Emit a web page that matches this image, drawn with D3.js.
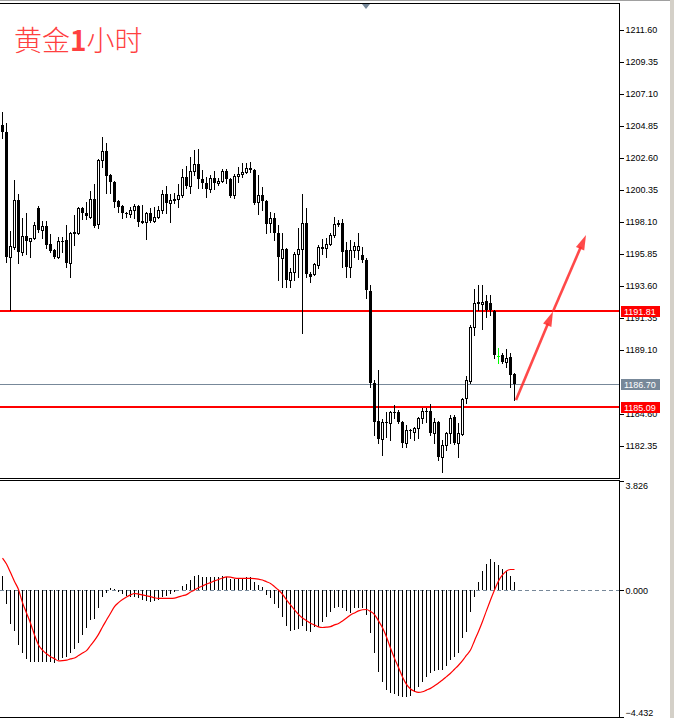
<!DOCTYPE html>
<html>
<head>
<meta charset="utf-8">
<script src="https://cdn.jsdelivr.net/npm/d3@7"></script>
<style>
  body { margin: 0; background: #fff; }
  svg { display: block; }
  text { font-family: "Liberation Sans", Arial, sans-serif; }
</style>
</head>
<body>
<svg width="674" height="718"></svg>
<script>
// hourly gold candles
const opens = [
1204.92,1204.43,1195.64,1196.34,1199.65,1195.99,1197.12,1196.76,1196.98,1199.09,
1197.54,1197.82,1196.55,1196.13,1195.64,1196.76,1196.83,1195.22,1197.40,1197.33,
1199.09,1198.73,1198.45,1199.72,1197.96,1202.46,1203.09,1201.40,1200.91,1199.58,
1199.23,1198.73,1198.66,1198.95,1199.23,1198.10,1198.10,1198.73,1198.17,1198.45,
1198.95,1200.07,1199.44,1199.65,1199.72,1200.00,1201.26,1200.63,1201.69,1202.18,
1201.12,1200.84,1200.42,1201.19,1200.84,1200.98,1201.69,1201.12,1200.00,1201.33,
1201.47,1201.62,1201.90,1201.76,1199.51,1200.00,1199.58,1198.03,1198.38,1197.33,
1195.57,1196.20,1194.02,1194.59,1195.85,1196.20,1198.03,1194.44,1194.44,1195.08,
1196.34,1196.27,1196.55,1197.19,1197.96,1198.03,1196.13,1194.94,1196.13,1196.13,
1195.78,1195.43,1193.25,1186.78,1184.11,1182.84,1184.04,1183.97,1184.74,1184.74,
1184.04,1182.56,1183.47,1183.33,1183.62,1184.32,1184.81,1184.81,1183.26,1184.04,
1181.58,1182.42,1183.26,1184.39,1182.56,1183.19,1185.72,1186.92,1190.72,1192.48,
1192.34,1192.55,1192.41,1191.84,1188.68,1188.75,1188.26,1188.61,1187.41];
const highs = [
1205.83,1205.06,1197.47,1201.05,1200.07,1198.38,1198.73,1196.98,1198.10,1199.20,
1198.17,1198.17,1197.26,1196.20,1197.05,1197.05,1197.89,1197.40,1198.59,1199.16,
1199.16,1199.51,1200.28,1200.77,1202.53,1204.08,1203.66,1201.47,1200.98,1199.65,
1199.30,1198.80,1199.16,1199.37,1199.30,1199.30,1198.80,1199.09,1199.16,1199.23,
1200.35,1200.63,1200.07,1200.14,1200.77,1201.83,1202.04,1202.67,1203.16,1203.23,
1201.76,1201.26,1201.40,1201.69,1201.19,1201.83,1201.83,1201.19,1201.47,1201.97,
1202.25,1202.25,1202.32,1201.83,1201.40,1200.56,1199.65,1198.80,1198.73,1197.89,
1197.33,1196.27,1194.87,1195.99,1197.68,1200.07,1199.09,1194.59,1195.22,1196.48,
1196.90,1196.98,1197.33,1198.45,1198.24,1198.31,1196.69,1196.83,1196.69,1197.33,
1196.34,1195.57,1193.67,1187.00,1187.69,1184.25,1184.74,1184.81,1185.23,1184.88,
1184.11,1183.83,1183.54,1183.69,1184.39,1185.02,1185.02,1185.30,1184.32,1184.11,
1182.77,1183.33,1184.53,1184.53,1183.97,1185.72,1187.27,1190.86,1193.39,1193.67,
1193.67,1192.97,1192.97,1191.91,1189.24,1188.89,1189.17,1188.89,1187.48];
const lows = [
1204.01,1195.29,1191.91,1196.20,1195.22,1195.78,1195.85,1195.64,1196.90,1197.40,
1196.98,1196.27,1195.99,1195.57,1195.57,1195.99,1194.94,1194.23,1196.48,1197.26,
1198.31,1198.31,1198.38,1197.75,1197.68,1201.97,1200.14,1200.14,1199.16,1198.80,
1198.38,1198.45,1198.45,1198.38,1197.82,1198.03,1196.90,1198.10,1198.10,1198.38,
1198.73,1198.73,1198.10,1199.44,1199.16,1199.86,1200.49,1200.14,1201.40,1200.49,
1200.49,1199.86,1200.21,1200.42,1200.70,1200.91,1200.84,1199.86,1199.79,1200.91,
1201.26,1201.55,1201.62,1199.37,1198.66,1198.95,1197.33,1197.40,1196.83,1194.02,
1193.53,1193.53,1193.53,1194.02,1194.23,1190.30,1194.23,1193.88,1194.37,1194.87,
1195.85,1195.64,1196.48,1197.05,1197.82,1194.94,1194.23,1194.23,1195.64,1195.50,
1195.29,1192.76,1186.50,1183.12,1182.56,1181.72,1182.98,1182.77,1184.32,1183.97,
1182.28,1182.28,1182.91,1182.77,1182.91,1183.97,1184.04,1183.12,1182.56,1181.37,
1180.52,1182.07,1182.56,1182.49,1181.58,1183.12,1185.37,1186.78,1190.16,1191.91,
1190.58,1191.42,1191.56,1188.54,1188.18,1188.18,1187.91,1186.50,1185.58];
const closes = [
1204.43,1195.64,1196.41,1199.65,1195.99,1197.12,1196.76,1196.98,1197.89,1197.54,
1197.82,1196.48,1196.06,1195.64,1196.76,1196.69,1195.22,1197.33,1197.26,1199.09,
1198.73,1198.52,1199.72,1197.82,1202.46,1203.09,1201.33,1200.91,1199.51,1199.16,
1198.73,1198.66,1198.95,1199.23,1198.10,1198.17,1198.73,1198.17,1198.45,1198.95,
1200.07,1199.44,1199.65,1199.72,1200.00,1201.26,1200.63,1201.69,1202.18,1201.12,
1200.84,1200.42,1201.19,1200.84,1200.98,1201.69,1201.12,1199.93,1201.33,1201.47,
1201.62,1201.90,1201.76,1199.44,1200.00,1199.58,1197.96,1198.38,1197.33,1195.64,
1196.20,1194.02,1194.59,1195.85,1196.20,1198.03,1194.44,1194.23,1195.15,1196.34,
1196.20,1196.55,1197.19,1197.96,1198.03,1195.99,1194.94,1196.13,1196.41,1196.41,
1195.43,1193.32,1186.78,1184.04,1182.84,1184.04,1183.97,1184.74,1184.67,1184.04,
1182.56,1183.47,1183.40,1183.62,1184.32,1184.81,1184.74,1183.26,1184.04,1181.58,
1182.42,1183.26,1184.32,1182.56,1183.26,1185.65,1186.99,1190.72,1192.41,1192.34,
1192.48,1191.91,1191.91,1188.75,1188.68,1188.26,1188.54,1187.34,1186.70];

// MACD histogram and signal line
const macdHist = [
0.50,-0.48,-1.18,-1.41,-1.91,-2.19,-2.40,-2.50,-2.50,-2.50,
-2.50,-2.50,-2.50,-2.53,-2.44,-2.37,-2.32,-2.19,-2.05,-1.84,
-1.56,-1.32,-1.04,-1.00,-0.61,-0.23,-0.08,0.09,0.05,-0.05,
-0.13,-0.20,-0.22,-0.22,-0.27,-0.34,-0.36,-0.40,-0.36,-0.34,
-0.23,-0.20,-0.13,-0.05,0.01,0.15,0.21,0.36,0.50,0.54,
0.48,0.45,0.45,0.45,0.48,0.50,0.48,0.40,0.40,0.40,
0.40,0.45,0.45,0.30,0.19,0.10,-0.16,-0.28,-0.48,-0.63,
-0.92,-1.24,-1.41,-1.39,-1.36,-1.24,-1.41,-1.45,-1.27,-1.27,
-1.10,-0.92,-0.77,-0.63,-0.57,-0.63,-0.72,-0.78,-0.63,-0.63,
-0.63,-0.86,-1.48,-2.20,-2.85,-3.20,-3.49,-3.58,-3.63,-3.70,
-3.74,-3.74,-3.69,-3.57,-3.39,-3.20,-3.02,-2.90,-2.81,-2.79,
-2.79,-2.64,-2.44,-2.32,-2.20,-1.68,-1.45,-0.75,-0.22,0.30,
0.69,0.92,1.10,1.00,0.89,0.73,0.69,0.50,0.30];
const macdSignal = [
1.13,0.92,0.62,0.31,0.03,-0.43,-0.79,-1.15,-1.56,-1.91,
-2.09,-2.22,-2.32,-2.39,-2.47,-2.46,-2.44,-2.40,-2.37,-2.28,
-2.19,-2.11,-1.93,-1.75,-1.54,-1.28,-1.04,-0.80,-0.57,-0.43,
-0.32,-0.23,-0.16,-0.11,-0.13,-0.16,-0.19,-0.22,-0.26,-0.28,
-0.28,-0.28,-0.28,-0.27,-0.23,-0.19,-0.15,-0.06,0.01,0.09,
0.15,0.22,0.27,0.33,0.38,0.43,0.47,0.46,0.43,0.42,
0.42,0.42,0.42,0.41,0.39,0.36,0.30,0.24,0.13,0.01,
-0.14,-0.33,-0.51,-0.68,-0.84,-0.97,-1.06,-1.15,-1.21,-1.28,
-1.30,-1.29,-1.27,-1.21,-1.16,-1.07,-0.97,-0.86,-0.79,-0.72,
-0.68,-0.67,-0.74,-0.85,-1.07,-1.31,-1.63,-2.02,-2.38,-2.70,
-3.03,-3.29,-3.45,-3.53,-3.57,-3.55,-3.49,-3.43,-3.34,-3.24,
-3.14,-3.02,-2.90,-2.76,-2.62,-2.46,-2.27,-2.09,-1.76,-1.44,
-1.09,-0.71,-0.34,0.01,0.33,0.54,0.68,0.73,0.73];

// 1186.85 sits under the bid tag in the screenshot, so it is left out
const priceTicks = [1211.60,1209.35,1207.10,1204.85,1202.60,1200.35,1198.10,1195.85,1193.60,1191.35,1189.10,1184.60,1182.35];
const macdTicks = [3.826, 0, -4.432];
const redLevels = [1191.81, 1185.09];
const bidPrice = 1186.70;
// forecast arrows: [candle index, price]
const arrowPts = [[128.5, 1185.58], [137.75, 1191.81], [146, 1197.19]];

const svg = d3.select("svg");
const W = 674, H = 718;
const plotRight = 619;

const x = d3.scaleLinear().domain([0, opens.length - 1]).range([2, 514]);
const y = d3.scaleLinear().domain([1182.35, 1211.60]).range([446, 30]);
const ym = d3.scaleLinear().domain([-4.432, 3.826]).range([717, 481]);
const cx = i => Math.round(x(i));

svg.append("rect").attr("width", W).attr("height", H).attr("fill", "#fff");

// window edges
svg.append("line").attr("x1", 0).attr("x2", W).attr("y1", 0.5).attr("y2", 0.5)
  .attr("stroke", "#a0a0a0");
svg.append("rect").attr("x", 670).attr("y", 0).attr("width", 4).attr("height", H)
  .attr("fill", "#d4d0c8");

svg.append("clipPath").attr("id", "mainclip")
  .append("rect").attr("x", 0).attr("y", 4).attr("width", plotRight).attr("height", 474);

const main = svg.append("g").attr("clip-path", "url(#mainclip)").attr("shape-rendering", "crispEdges");

// title
svg.append("text")
  .attr("x", 14).attr("y", 51)
  .attr("fill", "#ff4040")
  .style("font-family", "'Noto Sans CJK SC', sans-serif")
  .style("font-size", "28px")
  .style("font-weight", "300")
  .html('黄金<tspan font-weight="bold">1</tspan>小时');

// horizontal levels
main.append("line")
  .attr("x1", 0).attr("x2", plotRight)
  .attr("y1", Math.round(y(bidPrice)) + 0.5).attr("y2", Math.round(y(bidPrice)) + 0.5)
  .attr("stroke", "#778899");
main.selectAll(".lvl").data(redLevels).enter().append("line")
  .attr("class", "lvl")
  .attr("x1", 0).attr("x2", plotRight)
  .attr("y1", d => Math.round(y(d))).attr("y2", d => Math.round(y(d)))
  .attr("stroke", "#ff0000").attr("stroke-width", 2);

// candles
const idx = d3.range(opens.length);
const cg = main.selectAll(".candle").data(idx).enter().append("g").attr("class", "candle");

cg.append("line")
  .attr("x1", i => cx(i) + 0.5).attr("x2", i => cx(i) + 0.5)
  .attr("y1", i => Math.round(y(highs[i])))
  .attr("y2", i => Math.round(y(lows[i])) + 1)
  .attr("stroke", i => opens[i] === closes[i] ? "#00ff00" : "#000");

cg.each(function (i) {
  const g = d3.select(this);
  const o = opens[i], c = closes[i];
  const yt = Math.round(y(Math.max(o, c)));
  const yb = Math.round(y(Math.min(o, c)));
  if (o === c) {
    g.append("line").attr("x1", cx(i) - 1).attr("x2", cx(i) + 2)
      .attr("y1", yt + 0.5).attr("y2", yt + 0.5).attr("stroke", "#00ff00");
  } else if (c > o) {
    g.append("rect").attr("x", cx(i) - 0.5).attr("y", yt + 0.5)
      .attr("width", 2).attr("height", Math.max(yb - yt, 1))
      .attr("fill", "#fff").attr("stroke", "#000");
  } else {
    g.append("rect").attr("x", cx(i) - 1).attr("y", yt)
      .attr("width", 3).attr("height", Math.max(yb - yt, 1))
      .attr("fill", "#000");
  }
});

// forecast arrows
function arrow(p0, p1) {
  const x0 = x(p0[0]), y0 = y(p0[1]), x1 = x(p1[0]), y1 = y(p1[1]);
  const len = Math.hypot(x1 - x0, y1 - y0);
  const ux = (x1 - x0) / len, uy = (y1 - y0) / len;
  const hl = 15, hw = 4.5;
  const bx = x1 - ux * hl, by = y1 - uy * hl;
  svg.append("line")
    .attr("x1", x0).attr("y1", y0).attr("x2", bx + ux * 2).attr("y2", by + uy * 2)
    .attr("stroke", "#ff2a2a").attr("stroke-width", 2.6).attr("opacity", 0.85);
  svg.append("path")
    .attr("d", d3.line()([[x1, y1], [bx - uy * hw, by + ux * hw], [bx + uy * hw, by - ux * hw]]) + "Z")
    .attr("fill", "#ff2a2a").attr("opacity", 0.85);
}
arrow(arrowPts[0], arrowPts[1]);
arrow(arrowPts[1], arrowPts[2]);

// main frame + price axis
const frame = svg.append("g").attr("shape-rendering", "crispEdges");
frame.append("line").attr("x1", 0).attr("x2", plotRight + 1).attr("y1", 3.5).attr("y2", 3.5).attr("stroke", "#000");
frame.append("line").attr("x1", 0).attr("x2", plotRight + 1).attr("y1", 478.5).attr("y2", 478.5).attr("stroke", "#000");
frame.append("line").attr("x1", plotRight + 0.5).attr("x2", plotRight + 0.5).attr("y1", 3).attr("y2", 479).attr("stroke", "#000");

// shift marker
svg.append("path").attr("d", "M362,4L370,4L366,9Z").attr("fill", "#778899");

const yAxis = svg.append("g")
  .attr("transform", `translate(${plotRight + 0.5},0)`)
  .call(d3.axisRight(y).tickValues(priceTicks).tickSize(4).tickSizeOuter(0).tickPadding(2)
    .tickFormat(d3.format(".2f")));
yAxis.select(".domain").remove();
yAxis.selectAll("text").attr("fill", "#000").style("font-size", "9px").style("font-family", "'Liberation Sans', Arial, sans-serif");
yAxis.selectAll("line").attr("stroke", "#000").attr("shape-rendering", "crispEdges");

// price labels on axis
const tags = [
  { v: redLevels[0], c: "#ff0000" },
  { v: bidPrice, c: "#778899" },
  { v: redLevels[1], c: "#ff0000" }
];
const tg = svg.selectAll(".tag").data(tags).enter().append("g").attr("class", "tag")
  .attr("transform", d => `translate(621,${Math.round(y(d.v))})`);
tg.append("rect").attr("x", 0).attr("y", -5).attr("width", 39).attr("height", 11).attr("fill", d => d.c);
tg.append("text").attr("x", 3).attr("y", 4).attr("fill", "#fff").style("font-size", "9px").text(d => d.v.toFixed(2));

// MACD panel
const sub = svg.append("g").attr("shape-rendering", "crispEdges");
sub.append("line").attr("x1", 0).attr("x2", plotRight + 1).attr("y1", 480.5).attr("y2", 480.5).attr("stroke", "#000");
sub.append("line").attr("x1", 0).attr("x2", plotRight + 1).attr("y1", 717.5).attr("y2", 717.5).attr("stroke", "#000");
sub.append("line").attr("x1", plotRight + 0.5).attr("x2", plotRight + 0.5).attr("y1", 480).attr("y2", 718).attr("stroke", "#000");

sub.append("line").attr("x1", 0).attr("x2", plotRight)
  .attr("y1", Math.round(ym(0)) + 0.5).attr("y2", Math.round(ym(0)) + 0.5)
  .attr("stroke", "#778899").attr("stroke-dasharray", "4,3");

sub.selectAll(".hist").data(idx).enter().append("line")
  .attr("class", "hist")
  .attr("x1", i => cx(i) + 0.5).attr("x2", i => cx(i) + 0.5)
  .attr("y1", Math.round(ym(0)))
  .attr("y2", i => Math.round(ym(macdHist[i])))
  .attr("stroke", "#000");

svg.append("path")
  .datum(idx)
  .attr("fill", "none").attr("stroke", "#ff0000").attr("stroke-width", 1.2)
  .attr("d", d3.line().x(i => x(i) + 0.5).y(i => ym(macdSignal[i])).curve(d3.curveMonotoneX));

const mAxis = svg.append("g")
  .attr("transform", `translate(${plotRight + 0.5},0)`)
  .call(d3.axisRight(ym).tickValues(macdTicks).tickSize(4).tickSizeOuter(0).tickPadding(2)
    .tickFormat(d3.format(".3f")));
mAxis.select(".domain").remove();
mAxis.selectAll("line").attr("stroke", "#000").attr("shape-rendering", "crispEdges");
mAxis.selectAll("text").attr("fill", "#000").style("font-size", "9px")
  .attr("dy", d => d === macdTicks[0] ? "0.8em" : d === macdTicks[2] ? "-0.15em" : "0.32em");
</script>
</body>
</html>
